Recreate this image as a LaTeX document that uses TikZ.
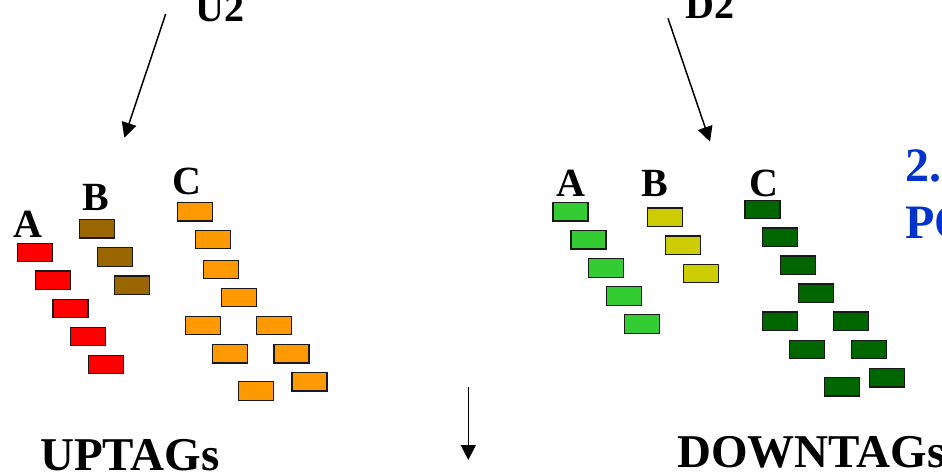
\documentclass[tikz,border=0pt]{standalone}
\usepackage{fontspec}
\setmainfont{Liberation Serif}
\usepackage{tikz}
\usetikzlibrary{arrows.meta}
\definecolor{tagred}{HTML}{FF0000}
\definecolor{tagbrown}{HTML}{996600}
\definecolor{tagorange}{HTML}{FF9900}
\definecolor{taggreen}{HTML}{33CC33}
\definecolor{tagyellow}{HTML}{CCCC00}
\definecolor{tagdark}{HTML}{006600}
\definecolor{titleblue}{HTML}{0033CC}
\tikzset{
  tagbox/.style={draw=black!90,line width=1.3pt,minimum width=35pt,minimum height=18.5pt,inner sep=0pt},
  letter/.style={anchor=base west,inner sep=0pt,font=\fontsize{40}{44}\selectfont\bfseries},
  bigtext/.style={anchor=base west,inner sep=0pt,font=\fontsize{47}{52}\selectfont\bfseries},
  tagarrow/.style={-{Triangle[length=15pt,width=15pt]},line width=1.5pt},
}
\begin{document}
\begin{tikzpicture}[x=1pt,y=-1pt]
      \useasboundingbox (0,0) rectangle (942,476);
      \clip (0,0) rectangle (942,476);
      % UPTAGs
      \node[letter] (u2) at (195,21.7) {U2};
      \foreach \i/\px/\py in {1/35/252.5,2/52.8/280.3,3/70.5/308.5,4/88.3/336.5,5/105.8/364.5}
        \node[tagbox,fill=tagred] (ua\i) at (\px,\py) {};
      \foreach \i/\px/\py in {1/97/228.7,2/114.7/257,3/132.2/285.2}
        \node[tagbox,fill=tagbrown] (ub\i) at (\px,\py) {};
      \foreach \i/\px/\py in {1/195/211.7,2/212.8/239.5,3/220.8/269.5,4/238.7/297.5,5/203.2/325.5,
                             6/274.2/325.5,7/229.8/353.7,8/291.5/353.7,9/309.5/381.8,10/256.3/391}
        \node[tagbox,fill=tagorange] (uc\i) at (\px,\py) {};
      \node[letter] (ula) at (13,237) {A};
      \node[letter] (ulb) at (82.7,210) {B};
      \node[letter] (ulc) at (172.7,194) {C};
      \node[bigtext] (up) at (40,470) {UPTAGs};
      \coordinate (u2from) at (165.7,14);
      \coordinate (u2to) at (124.3,137.7);
      \draw[tagarrow] (u2from) -- (u2to);
      % middle arrow
      \coordinate (mfrom) at (468.3,386.7);
      \coordinate (mto) at (468.3,460);
      \draw[tagarrow] (mfrom) -- (mto);
      % DOWNTAGs
      \node[letter] (d2) at (685,18.3) {D2};
      \foreach \i/\px/\py in {1/570.5/211.7,2/588.5/239.8,3/606.2/268,4/624/296,5/641.7/324}
        \node[tagbox,fill=taggreen] (da\i) at (\px,\py) {};
      \foreach \i/\px/\py in {1/665.3/217.3,2/682.8/245.2,3/700.7/273.5}
        \node[tagbox,fill=tagyellow] (db\i) at (\px,\py) {};
      \foreach \i/\px/\py in {1/762.5/209.5,2/780.2/237.3,3/798.2/265.3,4/815.7/293.3,5/780.2/321.3,
                             6/851.2/321.3,7/807/349.5,8/868.7/349.5,9/886.7/377.7,10/842.2/386.8}
        \node[tagbox,fill=tagdark] (dc\i) at (\px,\py) {};
      \node[letter] (dla) at (556.7,196) {A};
      \node[letter] (dlb) at (641.7,196) {B};
      \node[letter] (dlc) at (749.3,196) {C};
      \node[bigtext] (down) at (677,467) {DOWNTAGs};
      \coordinate (d2from) at (668,18.3);
      \coordinate (d2to) at (710,141.7);
      \draw[tagarrow] (d2from) -- (d2to);
      % cut-off title on the right
      \node[bigtext,text=titleblue,font=\fontsize{48}{52}\selectfont\bfseries] (t1) at (905,181.7) {2.};
      \node[bigtext,text=titleblue,font=\fontsize{48}{52}\selectfont\bfseries] (t2) at (905,238.3) {PO};
\end{tikzpicture}
\end{document}
